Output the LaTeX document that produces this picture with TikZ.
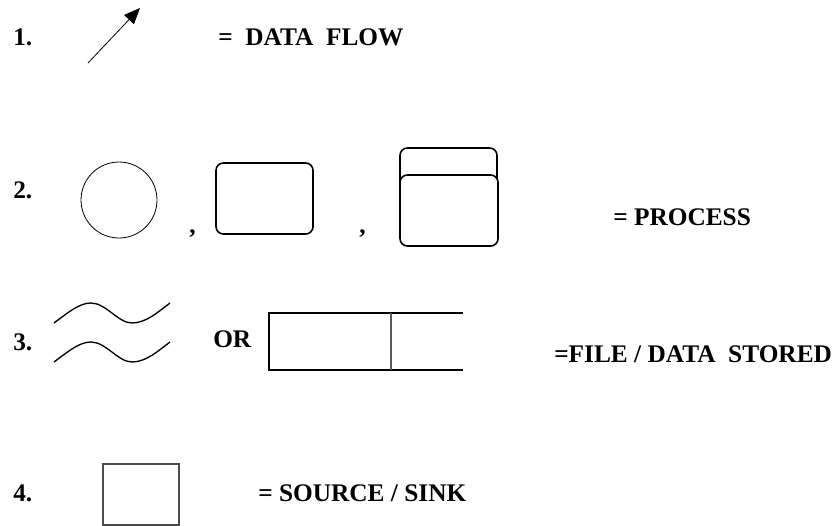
\documentclass[tikz,border=0pt]{standalone}
\usepackage{fontspec}
\setmainfont{Liberation Serif}
\usetikzlibrary{arrows.meta}

\tikzset{
  legend/.style={anchor=base west, inner sep=0pt, font=\fontsize{19}{21}\selectfont\bfseries},
  procbox/.style={line width=1.2pt, rounded corners=5.5pt},
}

\begin{document}
\begin{tikzpicture}[x=0.75pt, y=-0.75pt]
	\useasboundingbox (0,0) rectangle (837,525);

	% item numbers
	\node[legend] (num1) at (13,45) {1.};
	\node[legend] (num2) at (13,198) {2.};
	\node[legend] (num3) at (13,350) {3.};
	\node[legend] (num4) at (13,501) {4.};

	% 1. data flow
	\coordinate (flowtail) at (88,63);
	\coordinate (flowhead) at (140,8);
	\draw [-{Triangle[length=12pt,width=10pt]}, line width=0.6pt] (flowtail) -- (flowhead);
	\node[legend] (flowtext) at (218,45) {=\ \ DATA\ \ FLOW};

	% 2. process
	\draw [line width=0.6pt] (119,200) circle [radius=38];
	\node[legend] (comma1) at (189,233) {,};
	\draw [procbox] (216,163) rectangle (313,234);
	\node[legend] (comma2) at (359,233) {,};
	\draw [procbox] (400,148) rectangle (497,205);
	\draw [procbox, fill=white] (400,175) rectangle (498,246);
	\node[legend] (proctext) at (613,225) {=\ PROCESS};

	% 3. file / data store
	\draw [line width=1pt] (54,323) .. controls (70,311) and (80,303) .. (91,303)
		.. controls (106,303) and (118,323) .. (132,323)
		.. controls (146,323) and (158,312) .. (170,303);
	\draw [line width=1pt] (54,362) .. controls (70,350) and (80,342) .. (91,342)
		.. controls (106,342) and (118,362) .. (132,362)
		.. controls (146,362) and (158,351) .. (170,342);
	\node[legend] (ortext) at (213,347) {OR};
	\draw [line width=0.9pt] (463,313) -- (269,313) -- (269,370) -- (463,370);
	\draw [gray!70!black, line width=0.8pt] (391,313) -- (391,370);
	\node[legend] (filetext) at (554,362) {=FILE / DATA\ \ STORED};

	% 4. source / sink
	\draw [gray!60!black, line width=0.8pt] (103,464) rectangle (179,525);
	\node[legend] (sinktext) at (258,501) {=\ SOURCE / SINK};

\end{tikzpicture}
\end{document}
